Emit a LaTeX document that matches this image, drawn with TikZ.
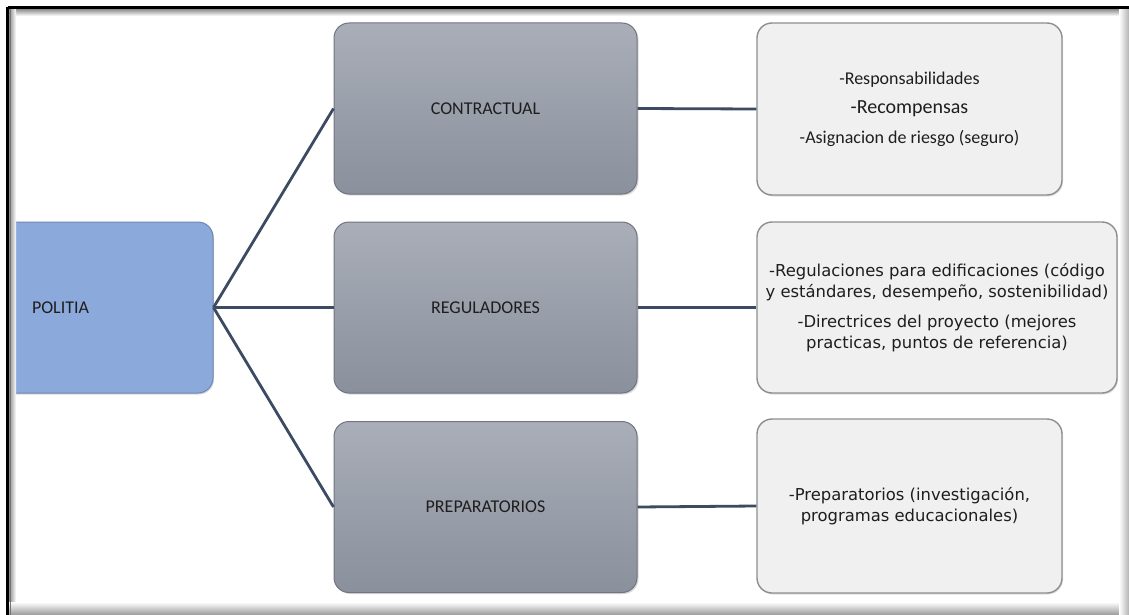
\documentclass[tikz,border=0pt]{standalone}
\usepackage{fontspec}
\setmainfont{Carlito}
\newfontfamily\detailfont{DejaVu Sans}
\usetikzlibrary{shadows}

\definecolor{rootfill}{HTML}{8CA9DB}
\definecolor{rootedge}{HTML}{6F87B4}
\definecolor{midtop}{HTML}{A9AEB8}
\definecolor{midbottom}{HTML}{8A909C}
\definecolor{midedge}{HTML}{70757F}
\definecolor{leaffill}{HTML}{F0F0F0}
\definecolor{leafedge}{HTML}{8E8E8E}
\definecolor{linkcol}{HTML}{3D4B62}
\definecolor{inkcol}{HTML}{1E1E1E}

\tikzset{
  basebox/.style={rounded corners=15pt, inner sep=0pt, align=center,
    text=inkcol, font=\fontsize{18}{21.6}\selectfont},
  rootbox/.style={basebox, fill=rootfill, draw=rootedge, line width=1pt,
    drop shadow={shadow xshift=1pt, shadow yshift=-1.5pt, opacity=.3}},
  midbox/.style={basebox, top color=midtop, bottom color=midbottom,
    draw=midedge, line width=1pt, minimum width=303pt, minimum height=171pt,
    drop shadow={shadow xshift=1.5pt, shadow yshift=-1.5pt, opacity=.3}},
  leafbox/.style={basebox, fill=leaffill, draw=leafedge, line width=1.4pt,
    drop shadow={shadow xshift=1pt, shadow yshift=-1.5pt, opacity=.25}},
  link/.style={draw=linkcol, line width=2.8pt},
  sanslines/.style={font={\detailfont\fontsize{16.4}{21}\selectfont}}
}

\begin{document}
\begin{tikzpicture}[x=1pt, y=-1pt]
\useasboundingbox (0,0) rectangle (1129,615);
\clip (0,0) rectangle (1129,615);
\fill[white] (0,0) rectangle (1129,615);

% root box, its left edge runs under the frame
\node[rootbox, minimum width=233pt, minimum height=171pt, text width=181pt,
      inner xsep=26pt, align=left] (root) at (96.5,307.5)
      {\hspace*{26pt}POLITIA};

% middle column
\node[midbox] (contr) at (485.5,108.5) {CONTRACTUAL};
\node[midbox] (regul) at (485.5,307.5) {REGULADORES};
\node[midbox] (prep)  at (485.5,507)   {PREPARATORIOS};

% detail column
\node[leafbox, minimum width=305pt, minimum height=172pt] (dcontr) at (909.5,109)
  {-Responsabilidades\\[8pt]
   {\fontsize{20}{24}\selectfont -Recompensas}\\[8pt]
   -Asignacion de riesgo (seguro)};
\node[leafbox, sanslines, minimum width=360pt, minimum height=171pt] (dregul) at (937,307.5)
  {-Regulaciones para edificaciones (código\\
   y estándares, desempeño, sostenibilidad)\\[9pt]
   -Directrices del proyecto (mejores\\
   practicas, puntos de referencia)};
\node[leafbox, sanslines, minimum width=305pt, minimum height=174pt] (dprep) at (909.5,506)
  {-Preparatorios (investigación,\\
   programas educacionales)};

% connectors
\draw[link] (root.east) -- (contr.west);
\draw[link] (root.east) -- (regul.west);
\draw[link] (root.east) -- (prep.west);
\draw[link] (contr.east) -- (dcontr.west);
\draw[link] (regul.east) -- (dregul.west);
\draw[link] (prep.east) -- (dprep.west);

% frame with inner shadow
\fill[white] (0,0) rectangle (6,615);
\fill[white] (0,0) rectangle (1129,6);
\shade[top color=black!45, bottom color=white] (9,9) rectangle (1129,16);
\shade[left color=black!45, right color=white] (9,9) rectangle (16,615);
\shade[top color=white, bottom color=black!40] (9,602) rectangle (1129,615);
\shade[left color=white, right color=black!30] (1119,9) rectangle (1129,615);
\draw[black!55, line width=1pt] (10.5,9) -- (10.5,615);
\draw[black, line width=2.6pt] (7.5,7.5) -- (1129,7.5);
\draw[black, line width=2.6pt] (7.5,7.5) -- (7.5,615);
\end{tikzpicture}
\end{document}
